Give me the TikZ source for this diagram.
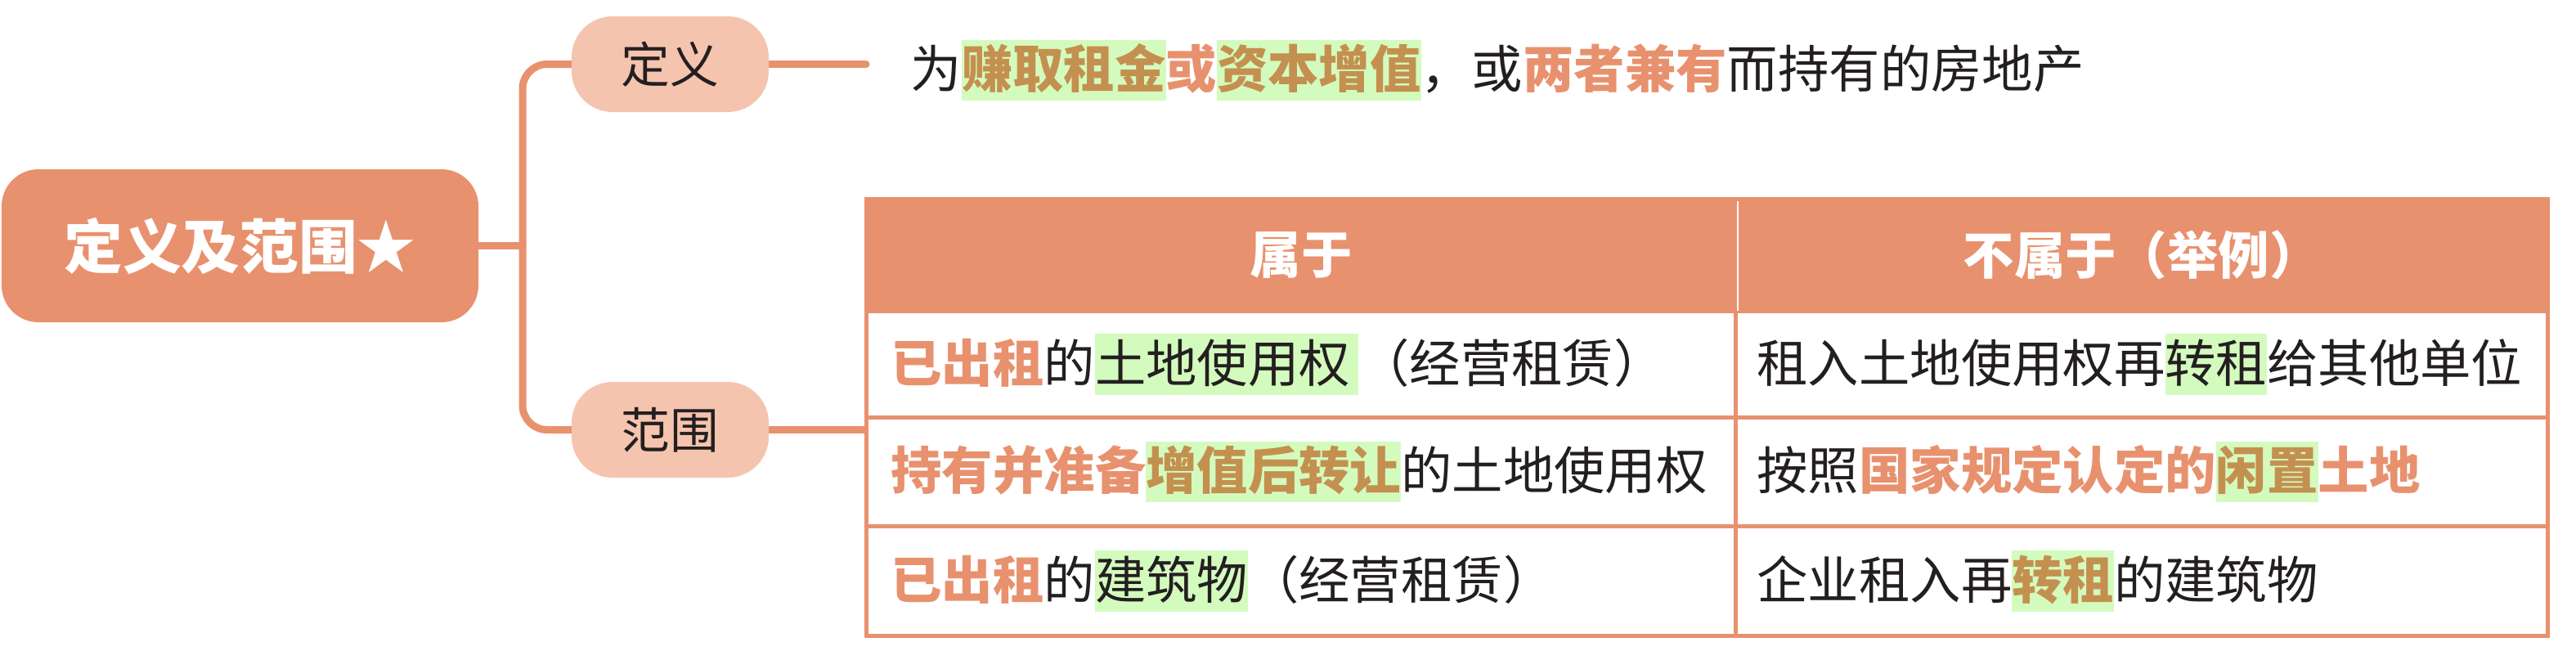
\documentclass[tikz,border=0pt]{standalone}
\usepackage{fontspec}
\setmainfont{Noto Sans CJK SC}
\usetikzlibrary{positioning, backgrounds}
\definecolor{salmon} {RGB}{232,145,110}
\definecolor{peach}  {RGB}{245,196,174}
\definecolor{hlgreen}{RGB}{212,251,190}
\definecolor{goldtxt}{RGB}{196,144, 80}
\definecolor{inkblk} {RGB}{ 35, 31, 32}
\newcommand{\hot}[1]{\textcolor{salmon}{\textbf{#1}}}
\newcommand{\greenbg}[1]{{\fboxsep=0pt\colorbox{hlgreen}{\rule[-0.25em]{0pt}{1.2em}#1}}}
\newcommand{\kw}[1]{\greenbg{\textcolor{goldtxt}{\textbf{#1}}}}
\newcommand{\bodysize}{\fontsize{17.75}{21}\selectfont}

\begin{document}
\begin{tikzpicture}[
  root/.style={rectangle, rounded corners=0.45cm, fill=salmon,
    minimum width=5.83cm, minimum height=1.87cm, text=white,
    font=\fontsize{20.4}{24}\selectfont\bfseries},
  topic/.style={rectangle, rounded corners=0.5cm, fill=peach,
    minimum width=2.41cm, minimum height=1.17cm, text=inkblk,
    font=\fontsize{17}{20}\selectfont},
  branch/.style={draw=salmon, line width=0.09cm, line cap=round},
  head/.style={rectangle, anchor=north west, fill=salmon, draw=salmon,
    line width=0.05cm, minimum height=1.37cm, text=white,
    font=\bodysize\bfseries},
  cell/.style={rectangle, anchor=north west, draw=salmon,
    line width=0.05cm, align=left, text=inkblk, font=\bodysize},
  lcell/.style={cell, text width=10.03cm, inner xsep=0.3cm},
  rcell/.style={cell, text width=9.41cm, inner xsep=0.26cm},
]
\useasboundingbox (0,0) rectangle (31.5,-8.17);

%% Mind map
\node[root]  (root)  at (2.935,-3.005) {定义及范围★};
\node[topic] (def)   at (8.195,-0.785) {定义};
\node[topic] (scope) at (8.195,-5.255) {范围};
\coordinate (hub)    at (6.39,-3.005);
\coordinate (defend) at (10.59,-0.785);

\node[anchor=west, inner sep=0pt, text=inkblk, font=\bodysize] (deftext)
  at (11.13,-0.86)
  {为\kw{赚取租金}\hot{或}\kw{资本增值}，或\hot{两者兼有}而持有的房地产};

%% Table
\node[head, minimum width=10.63cm] (H1) at (10.57,-2.41) {属于};
\node[head, minimum width=9.93cm]  (H2) at (21.2,-2.41)  {不属于（举例）};

\node[lcell, minimum height=1.30cm] (L1) at (10.57,-3.78)
  {\hot{已出租}的\greenbg{土地使用权\,}（经营租赁）};
\node[rcell, minimum height=1.30cm] (R1) at (21.2,-3.78)
  {租入土地使用权再\greenbg{转租}给其他单位};
\node[lcell, minimum height=1.33cm] (L2) at (10.57,-5.08)
  {\hot{持有并准备}\kw{增值后转让}的土地使用权};
\node[rcell, minimum height=1.33cm] (R2) at (21.2,-5.08)
  {按照\hot{国家规定认定的}\kw{闲置}\hot{土地}};
\node[lcell, minimum height=1.34cm] (L3) at (10.57,-6.41)
  {\hot{已出租}的\greenbg{建筑物}（经营租赁）};
\node[rcell, minimum height=1.34cm] (R3) at (21.2,-6.41)
  {企业租入再\kw{转租}的建筑物};

\draw[white, line width=0.02cm] ([yshift=-0.05cm]H1.north east) -- ([yshift=0.03cm]H1.south east);

%% Connectors
\begin{scope}[on background layer]
  \draw[branch] (root.east) -- (hub);
  \draw[branch, rounded corners=0.3cm] (hub) |- (def.west);
  \draw[branch, rounded corners=0.3cm] (hub) |- (scope.west);
  \draw[branch] (def.east) -- (defend);
  \draw[branch] (scope.east) -- (scope.east -| L2.west);
\end{scope}
\end{tikzpicture}
\end{document}
